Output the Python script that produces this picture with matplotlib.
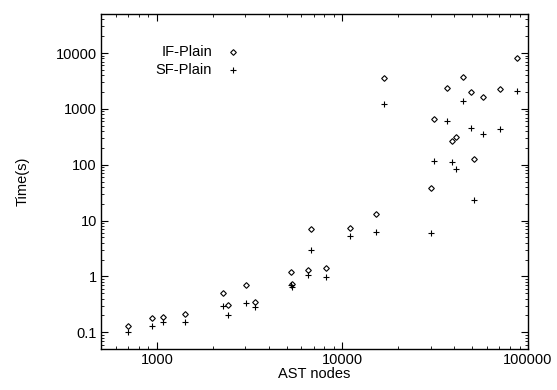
import matplotlib.pyplot as plt
from matplotlib.ticker import LogLocator, FixedLocator, NullFormatter

plt.rcParams['font.family'] = ['Liberation Sans', 'DejaVu Sans']

# AST nodes per program, and run time (s) for each variant
ast_nodes = [702, 939, 1084, 1420, 2280, 2410, 3030, 3360, 5270, 5330,
             6520, 6780, 8130, 10970, 15200, 16800, 29900, 31200, 36600,
             38900, 41000, 44400, 49200, 51000, 56900, 70800, 87500]
if_plain = [0.13, 0.18, 0.19, 0.21, 0.50, 0.31, 0.71, 0.35, 1.21, 0.73,
            1.30, 7.1, 1.42, 7.2, 12.9, 3580, 37.7, 655, 2380,
            270, 318, 3670, 2020, 124, 1660, 2310, 8010]
sf_plain = [0.10, 0.13, 0.15, 0.15, 0.30, 0.20, 0.34, 0.28, 0.71, 0.64,
            1.08, 2.96, 0.96, 5.2, 6.3, 1200, 5.9, 117, 614,
            111, 83, 1355, 460, 23.3, 360, 442, 2130]
series = [("IF-Plain", if_plain, dict(marker='D', markersize=2.9, markerfacecolor='none',
                                      markeredgecolor='black', markeredgewidth=0.8)),
          ("SF-Plain", sf_plain, dict(marker='+', markersize=4.2, markeredgecolor='black',
                                      markeredgewidth=0.8))]

fig = plt.figure(figsize=(5.57, 3.90), dpi=100)
ax = fig.add_axes([0.1813, 0.1051, 0.7667, 0.859])

for name, vals, st in series:
    ax.plot(ast_nodes, vals, linestyle='none', **st)

ax.set_xscale('log')
ax.set_yscale('log')
ax.set_xlim(500, 100000)
ax.set_ylim(0.05, 50000)

ax.xaxis.set_major_locator(FixedLocator([1000, 10000, 100000]))
ax.xaxis.set_minor_locator(LogLocator(base=10, subs=range(2, 10)))
ax.xaxis.set_minor_formatter(NullFormatter())
ax.set_xticklabels(['1000', '10000', '100000'])
ax.yaxis.set_major_locator(FixedLocator([0.1, 1, 10, 100, 1000, 10000]))
ax.yaxis.set_minor_locator(LogLocator(base=10, subs=range(2, 10)))
ax.yaxis.set_minor_formatter(NullFormatter())
ax.set_yticklabels(['0.1', '1', '10', '100', '1000', '10000'])

ax.tick_params(which='both', direction='in', top=True, right=True, labelsize=10.5)
ax.tick_params(which='major', length=5, width=0.8, pad=3)
ax.tick_params(which='minor', length=2.5, width=0.6)
for s in ax.spines.values():
    s.set_linewidth(1.0)

ax.set_xlabel('AST nodes', fontsize=10.5, labelpad=0)
ax.set_ylabel('Time(s)', fontsize=10.5, labelpad=19)

# gnuplot style key: right-justified text, sample to the right
ky = [0.886, 0.833]
for (name, vals, st), y in zip(series, ky):
    ax.text(0.26, y, name, ha='right', va='center', fontsize=10.5, transform=ax.transAxes)
    ax.plot([0.309], [y], linestyle='none', transform=ax.transAxes, **st)

fig.savefig('out.png', dpi=100)
